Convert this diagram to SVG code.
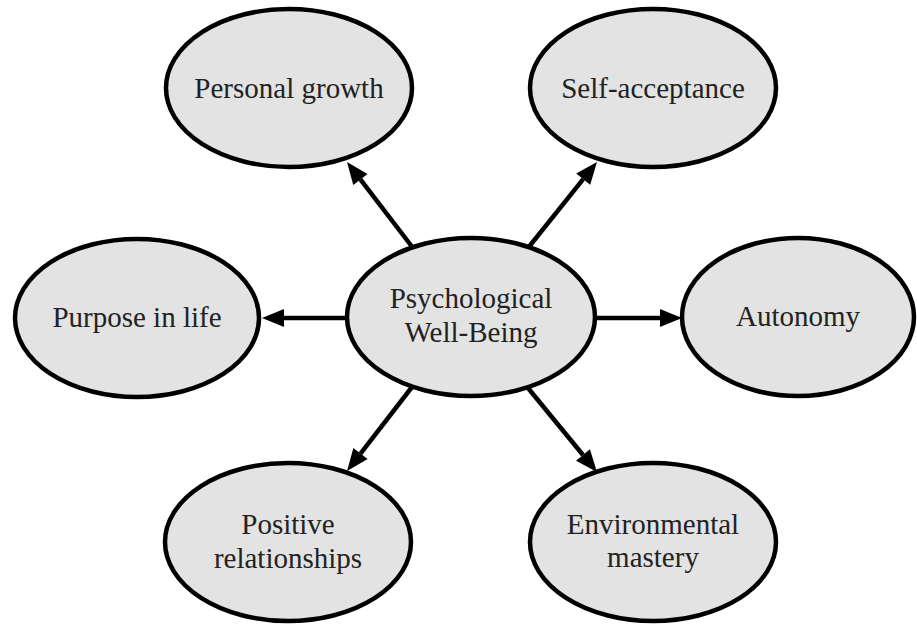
<svg xmlns="http://www.w3.org/2000/svg" width="917" height="624" viewBox="0 0 917 624">
<defs>
<style>
.node ellipse{fill:#e3e3e3;stroke:#000;stroke-width:4.5}
.node text{font-family:"Liberation Serif","Times New Roman",serif;font-size:29px;fill:#222;text-anchor:middle}
.edge{stroke:#000;stroke-width:4.5;fill:none;marker-end:url(#ah)}
</style>
<marker id="ah" markerUnits="userSpaceOnUse" markerWidth="24" markerHeight="20" refX="0" refY="9" orient="auto" overflow="visible">
<path d="M0,0 L22,9 L0,18 z" fill="#000"/>
</marker>
</defs>
<rect width="917" height="624" fill="#fff"/>
<g id="node-personal-growth" class="node">
<ellipse cx="289" cy="88" rx="123" ry="79"/>
<text x="289" y="98">Personal growth</text>
</g>
<g id="node-self-acceptance" class="node">
<ellipse cx="653" cy="88" rx="123" ry="79"/>
<text x="653" y="98">Self-acceptance</text>
</g>
<g id="node-purpose" class="node">
<ellipse cx="137" cy="318" rx="122" ry="79"/>
<text x="137" y="327">Purpose in life</text>
</g>
<g id="node-center" class="node">
<ellipse cx="471" cy="317" rx="124" ry="79"/>
<text x="471" y="308">Psychological</text>
<text x="471" y="342">Well-Being</text>
</g>
<g id="node-autonomy" class="node">
<ellipse cx="798" cy="317" rx="116" ry="79"/>
<text x="798" y="326">Autonomy</text>
</g>
<g id="node-positive-relationships" class="node">
<ellipse cx="288" cy="542" rx="123" ry="79"/>
<text x="288" y="534">Positive</text>
<text x="288" y="568">relationships</text>
</g>
<g id="node-environmental-mastery" class="node">
<ellipse cx="653" cy="542" rx="123" ry="79"/>
<text x="653" y="534">Environmental</text>
<text x="653" y="567">mastery</text>
</g>
<g id="connectors">
<line class="edge" x1="413" y1="248" x2="360.4" y2="179.4"/>
<line class="edge" x1="528" y1="248" x2="583.2" y2="179.2"/>
<line class="edge" x1="347" y1="318" x2="284" y2="318"/>
<line class="edge" x1="595" y1="318" x2="660" y2="318"/>
<line class="edge" x1="412" y1="387" x2="360.5" y2="453.6"/>
<line class="edge" x1="528" y1="388" x2="583" y2="455"/>
</g>
</svg>
